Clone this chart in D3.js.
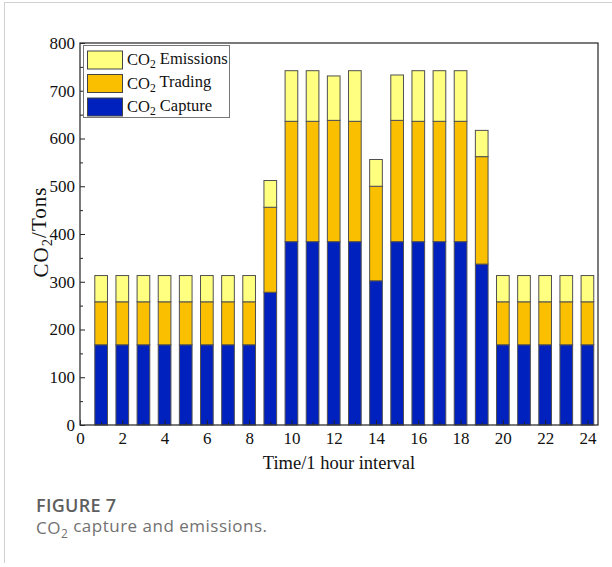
<!DOCTYPE html>
<html>
<head>
<meta charset="utf-8">
<script src="https://cdn.jsdelivr.net/npm/d3@7"></script>
<style>
  body { margin: 0; background: #fff; }
  svg { display: block; }
  .axis .tick text { font-family: "Liberation Serif", "Times New Roman", serif; font-size: 17px; fill: #111; }
</style>
</head>
<body>
<svg id="chart" width="612" height="567"></svg>
<script>
// Hourly CO2 amounts (tons), stacked: capture at the bottom, trading, then emissions
const hours = d3.range(1, 25);
const capture   = [168,168,168,168,168,168,168,168,278,384,384,384,384,302,384,384,384,384,337,168,168,168,168,168];
const trading   = [ 90, 90, 90, 90, 90, 90, 90, 90,178,252,252,254,252,198,254,252,252,252,225, 90, 90, 90, 90, 90];
const emissions = [ 55, 55, 55, 55, 55, 55, 55, 55, 56,106,106, 93,106, 56, 95,106,106,106, 55, 55, 55, 55, 55, 55];

const seriesNames  = ["Capture", "Trading", "Emissions"];
const seriesColors = ["#0021bd", "#fac000", "#ffff80"];

const yTicks = [0, 100, 200, 300, 400, 500, 600, 700, 800];
const xTicks = [0, 2, 4, 6, 8, 10, 12, 14, 16, 18, 20, 22, 24];

const svg = d3.select("#chart");
const W = 612, H = 567;
const plot = { left: 80, right: 598, top: 43, bottom: 425 };

const serif = "Liberation Serif, Times New Roman, serif";
const sans = "Open Sans, Noto Sans, sans-serif";

// Card frame (top and left rules)
svg.append("line").attr("x1", 4).attr("x2", W).attr("y1", 2.5).attr("y2", 2.5)
  .attr("stroke", "#d0d0d0").attr("stroke-width", 1);
svg.append("line").attr("x1", 4.5).attr("x2", 4.5).attr("y1", 2).attr("y2", 563)
  .attr("stroke", "#d0d0d0").attr("stroke-width", 1);

const x = d3.scaleLinear().domain([0, 24.5]).range([plot.left, plot.right]);
const y = d3.scaleLinear().domain([0, 800]).range([plot.bottom, plot.top]);

const rows = hours.map((h, i) => ({ hour: h, Capture: capture[i], Trading: trading[i], Emissions: emissions[i] }));
const stacked = d3.stack().keys(seriesNames)(rows);

const barW = x(0.6) - x(0);

// Bars
svg.append("g").selectAll("g")
  .data(stacked)
  .join("g")
  .attr("fill", (d, i) => seriesColors[i])
  .selectAll("rect")
  .data(d => d)
  .join("rect")
  .attr("x", d => x(d.data.hour) - barW / 2)
  .attr("width", barW)
  .attr("y", d => y(d[1]))
  .attr("height", d => y(d[0]) - y(d[1]))
  .attr("stroke", "#505050")
  .attr("stroke-width", 1);

// Axes with inward ticks
function styleAxis(g) {
  g.attr("class", "axis").attr("font-family", serif).attr("font-size", 17);
  g.select(".domain").remove();
  g.selectAll(".tick line").attr("stroke", "#222").attr("stroke-width", 1);
  g.selectAll(".tick text").attr("fill", "#111")
    .attr("font-family", serif).attr("font-size", 17);
}

svg.append("g").attr("transform", `translate(${plot.left},0)`)
  .call(d3.axisLeft(y).tickValues(yTicks).tickSize(-5).tickPadding(5).tickFormat(d3.format("d")))
  .call(styleAxis);
svg.append("g").attr("transform", `translate(${plot.left},0)`)
  .call(d3.axisLeft(y).tickValues(d3.range(50, 800, 100)).tickSize(-3).tickFormat(""))
  .call(styleAxis);
svg.append("g").attr("transform", `translate(0,${plot.bottom})`)
  .call(d3.axisBottom(x).tickValues(xTicks).tickSize(-5).tickPadding(7).tickFormat(d3.format("d")))
  .call(styleAxis);
svg.append("g").attr("transform", `translate(0,${plot.bottom})`)
  .call(d3.axisBottom(x).tickValues(d3.range(1, 25, 2)).tickSize(-3).tickFormat(""))
  .call(styleAxis);

// Plot frame
svg.append("rect")
  .attr("x", plot.left).attr("y", plot.top)
  .attr("width", plot.right - plot.left).attr("height", plot.bottom - plot.top)
  .attr("fill", "none").attr("stroke", "#333").attr("stroke-width", 1.3);

// Text helper for "CO2" with a subscript
function co2Text(sel, rest) {
  sel.append("tspan").text("CO");
  sel.append("tspan").attr("dy", "0.3em").attr("font-size", "0.7em").text("2");
  sel.append("tspan").attr("dy", "-0.3em").text(rest);
}

// Axis titles
svg.append("text")
  .attr("x", (plot.left + plot.right) / 2).attr("y", 469)
  .attr("text-anchor", "middle")
  .attr("font-family", serif).attr("font-size", 18.5).attr("fill", "#111")
  .text("Time/1 hour interval");

svg.append("text")
  .attr("transform", "translate(48,232) rotate(-90)")
  .attr("text-anchor", "middle")
  .attr("font-family", serif).attr("font-size", 21).attr("letter-spacing", 1)
  .attr("fill", "#111")
  .call(co2Text, "/Tons");

// Legend (top series first)
const legend = svg.append("g");
legend.append("rect")
  .attr("x", 83.5).attr("y", 45.5).attr("width", 146).attr("height", 72)
  .attr("fill", "#fff").attr("stroke", "#777").attr("stroke-width", 1);
const legendItems = [
  { label: " Emissions", color: seriesColors[2] },
  { label: " Trading",   color: seriesColors[1] },
  { label: " Capture",   color: seriesColors[0] }
];
legendItems.forEach((it, i) => {
  const cy = 60 + i * 23.5;
  legend.append("rect")
    .attr("x", 87.5).attr("y", cy - 9).attr("width", 35).attr("height", 18)
    .attr("fill", it.color).attr("stroke", "#444").attr("stroke-width", 1);
  legend.append("text")
    .attr("x", 127).attr("y", cy + 5)
    .attr("font-family", serif).attr("font-size", 16.5).attr("fill", "#111")
    .call(co2Text, it.label);
});

// Caption
svg.append("text")
  .attr("x", 36).attr("y", 512)
  .attr("font-family", sans).attr("font-size", 18).attr("font-weight", 600)
  .attr("letter-spacing", 0.3)
  .attr("fill", "#5e5e5e")
  .text("FIGURE 7");
svg.append("text")
  .attr("x", 36).attr("y", 534)
  .attr("font-family", sans).attr("font-size", 17)
  .attr("letter-spacing", 0.5)
  .attr("fill", "#717171")
  .call(co2Text, " capture and emissions.");
</script>
</body>
</html>
